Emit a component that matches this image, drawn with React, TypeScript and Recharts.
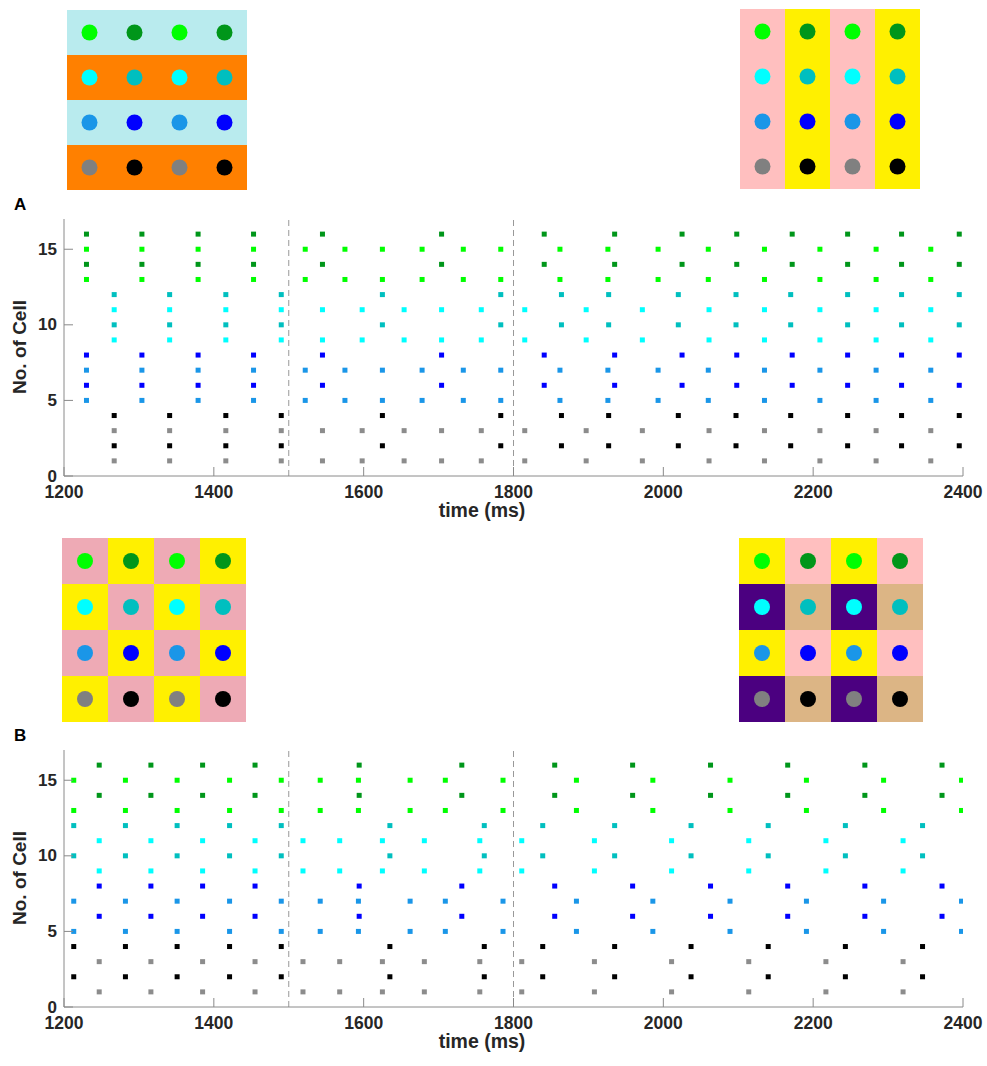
import React from "react";
import {
  ScatterChart,
  Scatter,
  XAxis,
  YAxis,
  ReferenceLine,
  ReferenceArea,
  Cell,
} from "recharts";

// colours
const LIME = "#00ff00";
const DKGREEN = "#00961a";
const CYAN = "#00ffff";
const TEAL = "#00bfbf";
const DODGER = "#1a96e8";
const BLUE = "#0000ff";
const GRAY = "#8c8c8c";
const BLACK = "#000000";

const POWDER = "#b9ebee";
const ORANGE = "#ff8000";
const PINK = "#ffbfbf";
const YELLOW = "#fff000";
const ROSE = "#eeaab5";
const INDIGO = "#4b0080";
const TAN = "#dcb585";

const FONT = "'Liberation Sans', Arial, Helvetica, sans-serif";

// ---- panel A spike times (ms) ----
const aDarkGreen = [1230, 1304, 1379, 1453, 1545, 1704, 1841, 1935, 2025, 2098, 2172, 2246, 2318, 2395];
const aLime = [1230, 1304, 1379, 1453, 1522, 1575, 1625, 1678, 1733, 1783, 1862, 1926, 1993, 2060, 2135, 2209, 2284, 2357];
const aTeal = [1267, 1341, 1416, 1490, 1625, 1783, 1864, 1927, 2020, 2097, 2170, 2246, 2318, 2395];
const aCyan = [1267, 1341, 1416, 1490, 1545, 1598, 1654, 1704, 1757, 1815, 1897, 1972, 2061, 2135, 2209, 2284, 2357];
const aBlue = [1230, 1304, 1379, 1453, 1545, 1704, 1841, 1935, 2025, 2098, 2172, 2246, 2318, 2395];
const aDodger = [1230, 1304, 1379, 1453, 1522, 1575, 1625, 1678, 1733, 1783, 1862, 1926, 1993, 2060, 2135, 2209, 2284, 2357];
const aBlack = [1267, 1341, 1416, 1490, 1625, 1783, 1864, 1927, 2020, 2097, 2170, 2246, 2318, 2395];
const aGray = [1267, 1341, 1416, 1490, 1545, 1598, 1654, 1704, 1757, 1815, 1897, 1972, 2061, 2135, 2209, 2284, 2357];

// ---- panel B spike times (ms) ----
const bDarkGreen = [1247, 1316, 1385, 1455, 1594, 1731, 1855, 1959, 2063, 2166, 2269, 2372];
const bLime = [1213, 1282, 1351, 1421, 1490, 1542, 1593, 1662, 1709, 1786, 1884, 1986, 2089, 2191, 2294, 2398];
const bTeal = [1213, 1282, 1351, 1421, 1490, 1635, 1761, 1839, 1935, 2037, 2140, 2243, 2346];
const bCyan = [1247, 1316, 1385, 1455, 1519, 1568, 1625, 1681, 1755, 1811, 1908, 2011, 2114, 2217, 2320];
const bBlue = [1247, 1316, 1385, 1455, 1594, 1731, 1855, 1959, 2063, 2166, 2269, 2372];
const bDodger = [1213, 1282, 1351, 1421, 1490, 1542, 1593, 1662, 1709, 1786, 1884, 1986, 2089, 2191, 2294, 2398];
const bBlack = [1213, 1282, 1351, 1421, 1490, 1635, 1761, 1839, 1935, 2037, 2140, 2243, 2346];
const bGray = [1247, 1316, 1385, 1455, 1519, 1568, 1625, 1681, 1755, 1811, 1908, 2011, 2114, 2217, 2320];

// which cells each colour group covers
const groupCells = {
  darkGreen: [14, 16],
  lime: [13, 15],
  teal: [10, 12],
  cyan: [9, 11],
  blue: [6, 8],
  dodger: [5, 7],
  black: [2, 4],
  gray: [1, 3],
};
const groupColors = {
  darkGreen: DKGREEN,
  lime: LIME,
  teal: TEAL,
  cyan: CYAN,
  blue: BLUE,
  dodger: DODGER,
  black: BLACK,
  gray: GRAY,
};

const panelA = {
  darkGreen: aDarkGreen, lime: aLime, teal: aTeal, cyan: aCyan,
  blue: aBlue, dodger: aDodger, black: aBlack, gray: aGray,
};
const panelB = {
  darkGreen: bDarkGreen, lime: bLime, teal: bTeal, cyan: bCyan,
  blue: bBlue, dodger: bDodger, black: bBlack, gray: bGray,
};

const xTicks = [1200, 1400, 1600, 1800, 2000, 2200, 2400];
const yTicks = [0, 5, 10, 15];
const boundaries = [1500, 1800];

// inset layouts, rows top to bottom
const dotGrid = [
  [LIME, DKGREEN, LIME, DKGREEN],
  [CYAN, TEAL, CYAN, TEAL],
  [DODGER, BLUE, DODGER, BLUE],
  ["#808080", BLACK, "#808080", BLACK],
];
const insetA1 = [
  [POWDER, POWDER, POWDER, POWDER],
  [ORANGE, ORANGE, ORANGE, ORANGE],
  [POWDER, POWDER, POWDER, POWDER],
  [ORANGE, ORANGE, ORANGE, ORANGE],
];
const insetA2 = [
  [PINK, YELLOW, PINK, YELLOW],
  [PINK, YELLOW, PINK, YELLOW],
  [PINK, YELLOW, PINK, YELLOW],
  [PINK, YELLOW, PINK, YELLOW],
];
const insetB1 = [
  [ROSE, YELLOW, ROSE, YELLOW],
  [YELLOW, ROSE, YELLOW, ROSE],
  [ROSE, YELLOW, ROSE, YELLOW],
  [YELLOW, ROSE, YELLOW, ROSE],
];
const insetB2 = [
  [YELLOW, PINK, YELLOW, PINK],
  [INDIGO, TAN, INDIGO, TAN],
  [YELLOW, PINK, YELLOW, PINK],
  [INDIGO, TAN, INDIGO, TAN],
];

const AXIS = "#8a8a8a";

const Inset = ({ bg, left, top, size }: any) => {
  const dots: any[] = [];
  dotGrid.forEach((row, r) =>
    row.forEach((c, col) => dots.push({ x: col + 0.5, y: 3.5 - r, fill: c }))
  );
  return (
    <div style={{ position: "absolute", left, top }}>
      <ScatterChart width={size} height={size} margin={{ top: 0, right: 0, bottom: 0, left: 0 }}>
        <XAxis type="number" dataKey="x" domain={[0, 4]} hide />
        <YAxis type="number" dataKey="y" domain={[0, 4]} hide />
        {bg.map((row: string[], r: number) =>
          row.map((c, col) => (
            <ReferenceArea
              key={`${r}-${col}`}
              x1={col}
              x2={col + 1}
              y1={3 - r}
              y2={4 - r}
              fill={c}
              fillOpacity={1}
              stroke="none"
              ifOverflow="visible"
            />
          ))
        )}
        <Scatter
          data={dots}
          isAnimationActive={false}
          shape={(p: any) => <circle cx={p.cx} cy={p.cy} r={8} fill={p.payload.fill} />}
        >
          {dots.map((d, i) => (
            <Cell key={i} fill={d.fill} />
          ))}
        </Scatter>
      </ScatterChart>
    </div>
  );
};

const BottomTick = ({ x, y, payload }: any) => (
  <g>
    <line x1={x} x2={x} y1={y} y2={y - 9} stroke={AXIS} />
    <text x={x} y={y + 22} textAnchor="middle" fontSize={17.5} fontWeight="bold" fontFamily={FONT} fill="#262626">
      {payload.value}
    </text>
  </g>
);

const LeftTick = ({ x, y, payload }: any) => (
  <g>
    <line x1={x} x2={x + 9} y1={y} y2={y} stroke={AXIS} />
    <text x={x - 7} y={y + 5.5} textAnchor="end" fontSize={17} fontWeight="bold" fontFamily={FONT} fill="#262626">
      {payload.value}
    </text>
  </g>
);

const Raster = ({ spikes, top, letter }: any) => {
  const keys = Object.keys(groupCells) as (keyof typeof groupCells)[];
  return (
    <div style={{ position: "absolute", left: 0, top }}>
      <ScatterChart width={987} height={340} margin={{ top: 29, right: 24, bottom: 0, left: 0 }}>
        <XAxis
          type="number"
          dataKey="t"
          domain={[1200, 2400]}
          ticks={xTicks}
          allowDataOverflow
          height={54}
          stroke={AXIS}
          tickSize={0}
          tickMargin={0}
          tick={<BottomTick />}
          label={{
            content: () => (
              <text x={482} y={327} textAnchor="middle" fontSize={19.5} fontWeight="bold" fontFamily={FONT} fill="#262626">
                time (ms)
              </text>
            ),
          }}
        />
        <YAxis
          type="number"
          dataKey="cell"
          domain={[0, 17]}
          ticks={yTicks}
          allowDataOverflow
          width={64}
          stroke={AXIS}
          tickSize={0}
          tickMargin={0}
          tick={<LeftTick />}
          label={{
            content: () => (
              <g>
                <text
                  x={26}
                  y={157}
                  transform="rotate(-90 26 157)"
                  textAnchor="middle"
                  fontSize={19}
                  fontWeight="bold"
                  fontFamily={FONT}
                  fill="#262626"
                >
                  No. of Cell
                </text>
                <text x={14} y={20} fontSize={17} fontWeight="bold" fontFamily={FONT} fill="#000">
                  {letter}
                </text>
              </g>
            ),
          }}
        />
        {boundaries.map((b) => (
          <ReferenceLine key={b} x={b} stroke="#999" strokeDasharray="6 4" />
        ))}
        {keys.map((k) =>
          groupCells[k].map((cell) => (
            <Scatter
              key={`${k}-${cell}`}
              data={spikes[k].map((t: number) => ({ t, cell }))}
              fill={groupColors[k]}
              isAnimationActive={false}
              shape={(p: any) => (
                <rect x={p.cx - 2.5} y={p.cy - 2.5} width={5} height={5} fill={groupColors[k]} />
              )}
            />
          ))
        )}
      </ScatterChart>
    </div>
  );
};

export default function App() {
  return (
    <div style={{ position: "absolute", left: 0, top: 0, width: 987, height: 1066, background: "#fff" }}>
      <Inset bg={insetA1} left={67} top={10} size={180} />
      <Inset bg={insetA2} left={740} top={9} size={180} />
      <Raster spikes={panelA} top={190} letter="A" />
      <Inset bg={insetB1} left={62} top={538} size={184} />
      <Inset bg={insetB2} left={739} top={538} size={184} />
      <Raster spikes={panelB} top={721} letter="B" />
    </div>
  );
}
